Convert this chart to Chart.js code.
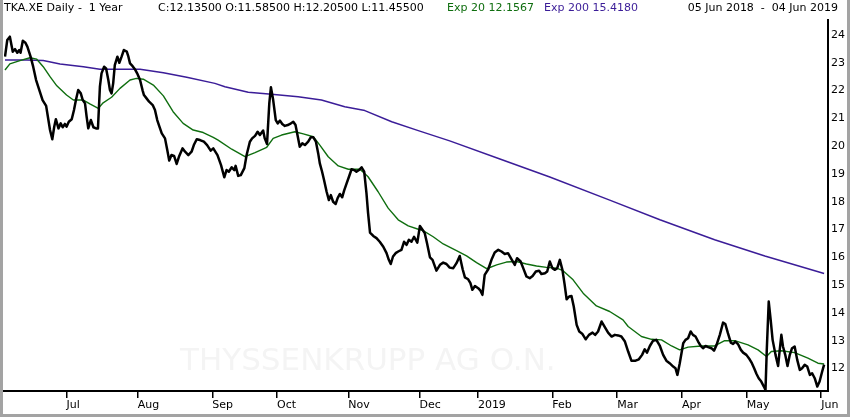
<!DOCTYPE html>
<html>
<head>
<meta charset="utf-8">
<title>TKA.XE Daily</title>
<script src="https://cdn.jsdelivr.net/npm/chart.js@4"></script>
<style>
  html, body { margin: 0; padding: 0; background: #fff; }
  canvas { display: block; }
</style>
</head>
<body>
<canvas id="chart" width="850" height="417"></canvas>
<script>
// trading day index (0 = 05 Jun 2018) and closing prices
const priceDay = [0,0.7,1.5,2.4,3.1,3.8,4.4,4.8,5.5,6.3,6.9,7.9,8.7,9.6,10.6,11.6,12.7,13.4,13.9,14.6,15.2,15.7,16.5,17.2,17.8,18.5,19.0,19.7,20.6,21.3,21.9,22.6,23.4,24.0,24.7,25.2,25.7,26.5,27.3,28.1,28.7,29.3,29.8,30.6,31.2,31.9,32.4,32.9,33.4,33.9,34.7,35.3,36.0,36.7,37.6,38.1,38.6,39.4,40.1,40.8,41.7,42.5,42.9,43.7,44.5,45.6,46.3,47.0,47.6,48.4,49.4,50.1,50.7,51.4,52.2,53.0,53.8,54.8,55.6,56.6,57.6,58.3,59.2,60.2,61.4,62.4,63.5,64.3,65.6,66.7,67.7,68.4,69.1,70.0,70.8,71.2,72.0,72.8,73.9,74.6,75.6,76.3,77.2,78.0,78.7,79.7,80.2,80.9,81.6,82.1,82.8,83.6,84.2,84.9,85.6,86.4,87.3,88.0,89.0,89.7,90.3,91.0,91.8,92.6,93.6,94.4,95.2,96.0,96.7,97.2,97.9,98.5,99.3,100.0,100.6,101.3,102.1,102.7,103.4,104.1,104.7,105.5,106.2,107.0,107.8,108.5,109.3,110.1,110.9,111.6,112.1,112.7,113.7,114.7,115.7,116.8,117.8,118.5,119.1,119.8,120.6,121.4,122.4,123.2,124.0,124.7,125.5,126.3,127.3,128.1,128.9,129.6,130.3,131.2,132.0,133.2,134.3,135.3,136.3,137.3,138.4,139.4,140.4,141.3,142.0,143.0,143.7,144.3,145.1,146.1,146.8,147.4,148.1,149.2,150.2,151.2,152.3,153.3,154.3,155.3,156.4,157.4,158.1,159.2,160.0,161.0,162.0,162.9,163.9,164.9,165.6,166.7,167.4,168.2,169.0,169.8,170.5,171.3,172.1,172.8,173.4,174.2,174.9,175.6,176.5,177.3,178.3,179.3,180.3,181.4,182.2,183.1,184.2,185.2,186.2,187.3,188.3,189.3,190.3,191.4,192.4,193.4,194.7,195.7,196.7,197.5,198.2,199.1,200.1,201.1,202.2,203.2,204.2,205.2,206.3,207.0,207.6,208.3,209.4,210.1,210.9,211.7,212.4,213.2,214.0,214.8,215.5,216.3,217.1,218.1,218.9,219.7,220.7,221.7,222.4,223.2,224.1,224.8,225.5,226.3,227.2,227.9,228.9,229.9,230.6,231.3,232.0,232.7,233.5,234.3,234.8,235.2,235.8,236.4,237.0,237.9,238.7,239.2,239.7,240.2,240.9,241.6,242.3,243.0,243.8,244.6,245.4,246.1,246.9,247.7,248.5,249.2,250.0,250.8,251.5,252.3,252.9];
const priceVal = [23.22,23.82,23.94,23.40,23.49,23.36,23.46,23.36,23.79,23.72,23.58,23.22,22.86,22.38,22.02,21.66,21.45,20.94,20.58,20.25,20.70,20.97,20.64,20.82,20.68,20.80,20.70,20.88,20.97,21.30,21.66,22.02,21.90,21.66,21.54,21.06,20.64,20.94,20.68,20.64,20.64,22.14,22.62,22.86,22.80,22.38,22.02,21.90,22.26,22.92,23.22,23.00,23.22,23.46,23.40,23.22,22.98,22.88,22.77,22.62,22.38,22.00,21.84,21.72,21.60,21.48,21.30,20.94,20.73,20.46,20.28,19.86,19.48,19.68,19.65,19.36,19.65,19.92,19.80,19.68,19.80,20.04,20.25,20.22,20.16,20.04,19.84,19.92,19.68,19.32,18.88,19.14,19.08,19.24,19.14,19.29,18.93,18.96,19.21,19.68,20.16,20.28,20.37,20.52,20.40,20.56,20.28,20.08,21.54,22.12,21.66,20.94,20.82,20.92,20.80,20.73,20.76,20.80,20.88,20.76,20.40,19.98,20.10,20.04,20.16,20.32,20.32,20.16,19.74,19.38,19.08,18.78,18.36,18.06,18.24,18.00,17.92,18.13,18.28,18.16,18.40,18.67,18.90,19.17,19.14,19.08,19.14,19.24,19.08,18.31,17.59,16.89,16.77,16.69,16.56,16.38,16.15,15.91,15.76,16.03,16.15,16.21,16.27,16.56,16.45,16.63,16.56,16.74,16.53,17.13,16.99,16.87,16.51,16.00,15.91,15.52,15.73,15.81,15.76,15.63,15.61,15.79,16.05,15.57,15.28,15.21,15.07,14.83,14.97,14.89,14.80,14.65,15.37,15.57,15.91,16.17,16.27,16.21,16.12,16.15,15.93,15.73,15.97,15.85,15.61,15.31,15.25,15.33,15.49,15.52,15.40,15.43,15.49,15.85,15.61,15.55,15.61,15.91,15.55,15.01,14.49,14.59,14.61,14.23,13.57,13.33,13.24,13.05,13.21,13.29,13.21,13.33,13.69,13.49,13.29,13.15,13.21,13.19,13.15,12.97,12.61,12.28,12.28,12.33,12.49,12.69,12.57,12.81,13.00,13.03,12.81,12.49,12.28,12.19,12.07,12.01,11.77,12.17,12.91,13.03,13.09,13.33,13.21,13.15,12.97,12.81,12.73,12.81,12.77,12.73,12.64,12.85,13.21,13.65,13.60,13.27,12.93,12.88,12.97,12.88,12.67,12.57,12.49,12.33,12.19,12.01,11.81,11.65,11.53,11.35,11.23,12.67,14.41,13.75,13.03,12.49,12.09,12.67,13.21,12.79,12.49,12.09,12.49,12.73,12.79,12.31,11.95,12.01,12.13,12.07,11.77,11.83,11.65,11.35,11.53,11.89,12.14];

// exponential moving averages
const ema20Day = [0,1.5,4.6,7.7,9.8,11.8,13.9,16.0,19.0,21.1,24.2,26.2,28.8,30.3,32.9,35.5,38.6,40.6,42.7,45.8,48.9,51.9,55.0,58.1,61.2,64.3,65.8,70.0,74.1,77.2,80.8,82.8,85.4,89.5,92.1,95.2,97.2,99.8,102.9,106.0,109.6,112.1,115.2,118.3,121.4,124.5,127.6,129.1,132.2,135.3,139.4,142.5,145.6,148.7,151.8,154.8,157.9,161.0,164.1,167.2,170.3,172.3,175.4,178.5,182.6,186.7,190.8,192.4,196.5,199.6,202.7,205.8,208.3,210.9,215.0,219.1,222.2,225.3,229.4,232.5,235.1,236.6,239.7,243.8,247.9,251.0,252.9];
const ema20Val = [22.74,22.96,23.08,23.18,23.13,22.86,22.50,22.17,21.84,21.66,21.66,21.52,21.36,21.56,21.76,22.08,22.38,22.44,22.41,22.20,21.81,21.24,20.82,20.58,20.49,20.32,20.22,19.89,19.62,19.77,19.96,20.28,20.40,20.52,20.44,20.34,20.04,19.62,19.29,19.17,19.17,18.90,18.36,17.77,17.35,17.13,17.01,16.96,16.74,16.48,16.24,16.05,15.81,15.59,15.73,15.83,15.85,15.76,15.69,15.64,15.61,15.52,15.19,14.71,14.25,14.05,13.75,13.51,13.15,13.05,13.03,12.81,12.67,12.77,12.81,12.81,13.00,13.00,12.85,12.67,12.43,12.61,12.64,12.57,12.37,12.19,12.16];

const ema200Day = [0,6.7,11.8,17.0,24.2,29.3,35.5,41.7,48.9,56.1,64.8,67.9,75.1,82.3,90.5,97.7,104.9,111.1,119.4,127.6,137.3,152.8,168.2,186.7,202.2,219.1,234.6,252.9];
const ema200Val = [23.10,23.10,23.08,22.96,22.86,22.77,22.77,22.77,22.64,22.48,22.26,22.14,21.94,21.87,21.78,21.66,21.42,21.28,20.88,20.56,20.19,19.54,18.89,18.06,17.35,16.63,16.05,15.42];

// first trading day of each month and its label
const monthDay = [19, 41, 64, 84, 106, 128, 146, 169, 189, 209, 229, 252];
const monthLabel = ['Jul', 'Aug', 'Sep', 'Oct', 'Nov', 'Dec', '2019', 'Feb', 'Mar', 'Apr', 'May', 'Jun'];
const yTicks = [12, 13, 14, 15, 16, 17, 18, 19, 20, 21, 22, 23, 24];

const GREEN = '#0f6e0f';
const PURPLE = '#3b1d98';
const FONT = '"DejaVu Sans", sans-serif';

const toPoints = (days, vals) => days.map((d, i) => ({x: d, y: vals[i]}));

// white background, watermark, header text and frame
const decorations = {
    id: 'decorations',
    beforeDraw(chart) {
        const ctx = chart.ctx;
        ctx.save();
        ctx.fillStyle = '#ffffff';
        ctx.fillRect(0, 0, chart.width, chart.height);
        ctx.restore();
    },
    beforeDatasetsDraw(chart) {
        const ctx = chart.ctx;
        ctx.save();
        ctx.fillStyle = '#f4f4f4';
        ctx.font = '31px ' + FONT;
        ctx.textBaseline = 'alphabetic';
        ctx.fillText('THYSSENKRUPP AG O.N.', 180, 370);
        ctx.restore();
    },
    afterDraw(chart) {
        const ctx = chart.ctx;
        ctx.save();
        ctx.font = '11px ' + FONT;
        ctx.textBaseline = 'alphabetic';
        ctx.fillStyle = '#000';
        ctx.fillText('TKA.XE Daily -  1 Year', 4, 11);
        ctx.fillText('C:12.13500 O:11.58500 H:12.20500 L:11.45500', 158, 11);
        ctx.fillStyle = GREEN;
        ctx.fillText('Exp 20 12.1567', 447, 11);
        ctx.fillStyle = PURPLE;
        ctx.fillText('Exp 200 15.4180', 544, 11);
        ctx.fillStyle = '#000';
        ctx.textAlign = 'right';
        ctx.fillText('05 Jun 2018  -  04 Jun 2019', 838, 11);

        // grey frame on the left, right and bottom
        ctx.fillStyle = '#a3a3a3';
        ctx.fillRect(0, 0, 3, chart.height);
        ctx.fillRect(chart.width - 3, 0, 3, chart.height);
        ctx.fillRect(0, chart.height - 3, chart.width, 3);
        ctx.restore();
    }
};

new Chart(document.getElementById('chart'), {
    type: 'line',
    data: {
        datasets: [
            {
                label: 'TKA.XE',
                data: toPoints(priceDay, priceVal),
                borderColor: '#000000',
                borderWidth: 2.5,
            },
            {
                label: 'Exp 20',
                data: toPoints(ema20Day, ema20Val),
                borderColor: GREEN,
                borderWidth: 1.4,
            },
            {
                label: 'Exp 200',
                data: toPoints(ema200Day, ema200Val),
                borderColor: PURPLE,
                borderWidth: 1.5,
            },
        ],
    },
    options: {
        responsive: false,
        animation: false,
        devicePixelRatio: 1,
        layout: {
            padding: {left: 4, top: 20, right: 0, bottom: 0},
        },
        elements: {
            point: {radius: 0},
            line: {tension: 0, fill: false, borderJoinStyle: 'round'},
        },
        plugins: {
            legend: {display: false},
            tooltip: {enabled: false},
        },
        events: [],
        scales: {
            x: {
                type: 'linear',
                min: -0.31,
                max: 254.1,
                afterBuildTicks: (scale) => {
                    scale.ticks = monthDay.map(v => ({value: v}));
                },
                afterFit: (scale) => {
                    scale.height = 26;
                },
                grid: {
                    drawOnChartArea: false,
                    drawTicks: true,
                    tickLength: 7,
                    color: '#000',
                    lineWidth: 1.5,
                },
                border: {display: true, color: '#000', width: 2},
                ticks: {
                    autoSkip: false,
                    maxRotation: 0,
                    align: 'start',
                    padding: 1,
                    color: '#000',
                    font: {family: FONT, size: 11},
                    callback: (value) => monthLabel[monthDay.indexOf(value)],
                },
            },
            y: {
                position: 'right',
                min: 11.19,
                max: 24.54,
                afterBuildTicks: (scale) => {
                    scale.ticks = yTicks.map(v => ({value: v}));
                },
                afterFit: (scale) => {
                    scale.width = 22;
                },
                grid: {display: false, drawTicks: false},
                border: {display: true, color: '#000', width: 2},
                ticks: {
                    padding: 3,
                    color: '#000',
                    font: {family: FONT, size: 11},
                    callback: (value) => String(value),
                },
            },
        },
    },
    plugins: [decorations],
});
</script>
</body>
</html>
